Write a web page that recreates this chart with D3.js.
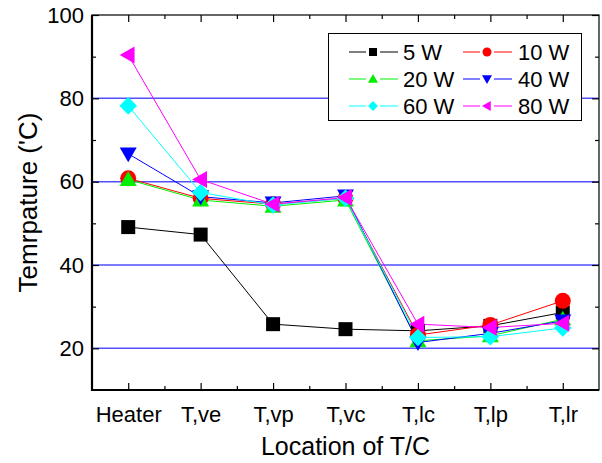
<!DOCTYPE html>
<html>
<head>
<meta charset="utf-8">
<script src="https://cdn.jsdelivr.net/npm/d3@7"></script>
<style>
  body { margin: 0; background: #fff; }
  text { font-family: "Liberation Sans", Arial, sans-serif; }
</style>
</head>
<body>
<div id="chart"></div>
<script>
'use strict';
// locations of the thermocouples
var locations = ["Heater", "T,ve", "T,vp", "T,vc", "T,lc", "T,lp", "T,lr"];
var yTicks = [20, 40, 60, 80, 100];
var yMinor = [30, 50, 70, 90];
var gridValues = [20, 40, 60, 80];

// temperatures per power level
var w5  = [49.1, 47.3, 25.8, 24.6, 24.2, 25.4, 28.6];
var w10 = [60.8, 56.0, 54.6, 56.0, 23.2, 25.6, 31.4];
var w20 = [60.5, 55.6, 54.1, 55.6, 21.8, 23.0, 27.0];
var w40 = [66.7, 56.4, 54.9, 56.6, 21.4, 23.6, 26.6];
var w60 = [78.2, 57.4, 54.4, 56.0, 22.6, 22.8, 24.9];
var w80 = [90.4, 60.5, 54.6, 56.2, 25.8, 25.0, 26.0];

var series = [
  {name: "5 W",  values: w5,  color: "#000000", shape: "square"},
  {name: "10 W", values: w10, color: "#ff0000", shape: "circle"},
  {name: "20 W", values: w20, color: "#00ee00", shape: "triUp"},
  {name: "40 W", values: w40, color: "#0000ff", shape: "triDown"},
  {name: "60 W", values: w60, color: "#00ffff", shape: "diamond"},
  {name: "80 W", values: w80, color: "#ff00ff", shape: "triLeft"}
];

var width = 602, height = 463;
var pLeft = 92, pRight = 599, pTop = 15, pBottom = 390;

var svg = d3.select("#chart").append("svg")
  .attr("width", width)
  .attr("height", height);

var x = d3.scaleLinear().domain([0.5, 7.5]).range([pLeft, pRight]);
var y = d3.scaleLinear().domain([10, 100]).range([pBottom, pTop]);

// marker path, size s = full width
function markerPath(shape, s) {
  var h = s / 2;
  var p = d3.path();
  if (shape == "square") {
    p.rect(-h, -h, s, s);
  } else if (shape == "circle") {
    p.arc(0, 0, h, 0, 2 * Math.PI);
  } else if (shape == "triUp") {
    p.moveTo(0, -h); p.lineTo(h, h * 0.75); p.lineTo(-h, h * 0.75); p.closePath();
  } else if (shape == "triDown") {
    p.moveTo(0, h); p.lineTo(h, -h * 0.75); p.lineTo(-h, -h * 0.75); p.closePath();
  } else if (shape == "diamond") {
    p.moveTo(0, -h * 1.1); p.lineTo(h * 1.1, 0); p.lineTo(0, h * 1.1); p.lineTo(-h * 1.1, 0); p.closePath();
  } else if (shape == "triLeft") {
    p.moveTo(-h, 0); p.lineTo(h * 0.75, -h); p.lineTo(h * 0.75, h); p.closePath();
  }
  return p.toString();
}

// grid lines
svg.append("g").selectAll("line")
  .data(gridValues)
  .enter().append("line")
  .attr("x1", pLeft).attr("x2", pRight)
  .attr("y1", function(d) { return y(d); })
  .attr("y2", function(d) { return y(d); })
  .attr("stroke", "#5050ff")
  .attr("stroke-width", 1.5);

// axes
var idx = d3.range(1, locations.length + 1);
var minorX = d3.range(1.5, locations.length, 1);

var xAxis = svg.append("g")
  .attr("transform", "translate(0," + pBottom + ")")
  .call(d3.axisBottom(x).tickValues(idx).tickSize(-7).tickPadding(16)
    .tickFormat(function(d) { return locations[d - 1]; }));
xAxis.select(".domain").remove();
xAxis.selectAll("text").attr("font-size", "22px").attr("fill", "#000")
  .style("font-family", "'Liberation Sans', Arial, sans-serif");

svg.append("g")
  .attr("transform", "translate(0," + pBottom + ")")
  .call(d3.axisBottom(x).tickValues(minorX).tickSize(-4).tickFormat(""))
  .select(".domain").remove();

var xTop = svg.append("g")
  .attr("transform", "translate(0," + pTop + ")")
  .call(d3.axisTop(x).tickValues(idx).tickSize(-7).tickFormat(""));
xTop.select(".domain").remove();
svg.append("g")
  .attr("transform", "translate(0," + pTop + ")")
  .call(d3.axisTop(x).tickValues(minorX).tickSize(-4).tickFormat(""))
  .select(".domain").remove();

var yAxis = svg.append("g")
  .attr("transform", "translate(" + pLeft + ",0)")
  .call(d3.axisLeft(y).tickValues(yTicks).tickSize(-7).tickPadding(8));
yAxis.select(".domain").remove();
yAxis.selectAll("text").attr("font-size", "22px").attr("fill", "#000")
  .style("font-family", "'Liberation Sans', Arial, sans-serif");

svg.append("g")
  .attr("transform", "translate(" + pLeft + ",0)")
  .call(d3.axisLeft(y).tickValues(yMinor).tickSize(-4).tickFormat(""))
  .select(".domain").remove();

svg.append("g")
  .attr("transform", "translate(" + pRight + ",0)")
  .call(d3.axisRight(y).tickValues(yTicks).tickSize(-7).tickFormat(""))
  .select(".domain").remove();
svg.append("g")
  .attr("transform", "translate(" + pRight + ",0)")
  .call(d3.axisRight(y).tickValues(yMinor).tickSize(-4).tickFormat(""))
  .select(".domain").remove();

svg.selectAll(".tick line").attr("stroke", "#000").attr("stroke-width", 1.2);

// frame
svg.append("rect")
  .attr("x", pLeft).attr("y", pTop)
  .attr("width", pRight - pLeft).attr("height", pBottom - pTop)
  .attr("fill", "none")
  .attr("stroke", "#000")
  .attr("stroke-width", 1.2);
svg.append("line").attr("x1", pLeft).attr("x2", pLeft).attr("y1", pTop).attr("y2", pBottom + 1)
  .attr("stroke", "#000").attr("stroke-width", 2.2);
svg.append("line").attr("x1", pLeft - 1).attr("x2", pRight).attr("y1", pBottom).attr("y2", pBottom)
  .attr("stroke", "#000").attr("stroke-width", 2.2);

// series lines and markers
var line = d3.line()
  .x(function(d, i) { return x(i + 1); })
  .y(function(d) { return y(d); });

var sizes = {square: 14, circle: 16, triUp: 17, triDown: 17, diamond: 16, triLeft: 17};

series.forEach(function(s) {
  svg.append("path")
    .datum(s.values)
    .attr("d", line)
    .attr("fill", "none")
    .attr("stroke", s.color)
    .attr("stroke-width", 1);
});

series.forEach(function(s) {
  svg.append("g").selectAll("path")
    .data(s.values)
    .enter().append("path")
    .attr("transform", function(d, i) { return "translate(" + x(i + 1) + "," + y(d) + ")"; })
    .attr("d", markerPath(s.shape, sizes[s.shape]))
    .attr("fill", s.color);
});

// legend
var legend = svg.append("g");
legend.append("rect")
  .attr("x", 328.5).attr("y", 33.5)
  .attr("width", 253).attr("height", 87)
  .attr("fill", "#fff")
  .attr("stroke", "#000")
  .attr("stroke-width", 1);

var legendSizes = {square: 8, circle: 9, triUp: 10, triDown: 10, diamond: 9, triLeft: 10};

var item = legend.selectAll(".item")
  .data(series)
  .enter().append("g")
  .attr("class", "item")
  .attr("transform", function(d, i) {
    var col = i % 2, row = Math.floor(i / 2);
    return "translate(" + (col == 0 ? 349 : 463) + "," + (52 + row * 27) + ")";
  });

item.append("line")
  .attr("x1", 0).attr("x2", 17).attr("y1", 0).attr("y2", 0)
  .attr("stroke", function(d) { return d.color; });
item.append("line")
  .attr("x1", 31).attr("x2", 49).attr("y1", 0).attr("y2", 0)
  .attr("stroke", function(d) { return d.color; });
item.append("path")
  .attr("transform", "translate(24,0)")
  .attr("d", function(d) { return markerPath(d.shape, legendSizes[d.shape]); })
  .attr("fill", function(d) { return d.color; });
item.append("text")
  .attr("x", function(d, i) { return i % 2 == 0 ? 54 : 55; })
  .attr("y", 0)
  .attr("dy", "0.36em")
  .attr("font-size", "22px")
  .text(function(d) { return d.name; });

// axis titles
svg.append("text")
  .attr("x", (pLeft + pRight) / 2)
  .attr("y", 455)
  .attr("text-anchor", "middle")
  .attr("font-size", "25px")
  .text("Location of T/C");

svg.append("text")
  .attr("transform", "translate(37," + ((pTop + pBottom) / 2) + ") rotate(-90)")
  .attr("text-anchor", "middle")
  .attr("font-size", "26px")
  .text("Temrpature ('C)");
</script>
</body>
</html>
